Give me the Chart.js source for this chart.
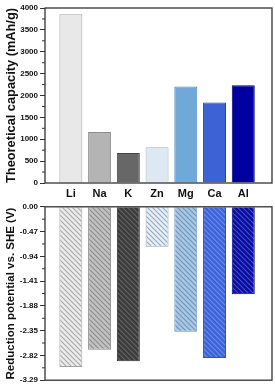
<!DOCTYPE html>
<html>
<head>
<meta charset="utf-8">
<script src="https://cdn.jsdelivr.net/npm/chart.js@4.4.1/dist/chart.umd.min.js"></script>
<style>
  body { margin: 0; background: #fff; }
  .box { position: absolute; left: 0; width: 275px; }
  #topBox { top: 0; height: 200px; }
  #bottomBox { top: 200px; height: 187px; }
</style>
</head>
<body>
<div class="box" id="topBox"><canvas id="capChart"></canvas></div>
<div class="box" id="bottomBox"><canvas id="potChart"></canvas></div>
<script>
const metals = ["Li", "Na", "K", "Zn", "Mg", "Ca", "Al"];
const capacity = [3860, 1166, 685, 820, 2205, 1840, 2235];
const potential = [-3.04, -2.71, -2.93, -0.76, -2.37, -2.87, -1.66];
const capTicks = [0, 500, 1000, 1500, 2000, 2500, 3000, 3500, 4000];
const potTicks = [0.00, -0.47, -0.94, -1.41, -1.88, -2.35, -2.82, -3.29];

const topFill = ["#e8e8e8", "#b4b4b4", "#676767", "#dde8f3", "#70a8d8", "#3d62d6", "#0000a0"];
const topEdge = ["#a4a4a4", "#8c8c8c", "#454545", "#a6b0bb", "#4f86b6", "#2443b4", "#000070"];
const hatchBg = ["#ececec", "#c2c2c2", "#3b3b3b", "#e6f0fb", "#a7c9e7", "#3e63d8", "#0b0b9c"];
const hatchLine = ["#a8a8a8", "#8c8c8c", "#666666", "#95a7bc", "#7292b2", "#6d8cec", "#4252d2"];
const hatchEdge = ["#a0a0a0", "#8a8a8a", "#2a2a2a", "#9aa6b4", "#7090b0", "#3050c0", "#000078"];

const FONT = "'Liberation Sans', Arial, sans-serif";
const INK = "#111";

function hatch(bg, line) {
  const c = document.createElement("canvas");
  c.width = 5; c.height = 5;
  const g = c.getContext("2d");
  g.fillStyle = bg;
  g.fillRect(0, 0, 5, 5);
  g.strokeStyle = line;
  g.lineWidth = 1.1;
  g.beginPath();
  g.moveTo(-1, -1); g.lineTo(6, 6);
  g.moveTo(-1, 4); g.lineTo(1, 6);
  g.moveTo(4, -1); g.lineTo(6, 1);
  g.stroke();
  return g.createPattern(c, "repeat");
}

// box frame and minor ticks
const framePlugin = {
  id: "frame",
  afterDraw(chart) {
    const { ctx, chartArea: a } = chart;
    const y = chart.scales.y;
    ctx.save();
    ctx.strokeStyle = "#333";
    ctx.lineWidth = 1.3;
    ctx.strokeRect(a.left, a.top, a.right - a.left, a.bottom - a.top);
    ctx.lineWidth = 1;
    const t = y.ticks;
    for (let i = 0; i < t.length - 1; i++) {
      const py = y.getPixelForValue((t[i].value + t[i + 1].value) / 2);
      ctx.beginPath();
      ctx.moveTo(a.left - 3, py);
      ctx.lineTo(a.left, py);
      ctx.stroke();
    }
    ctx.restore();
  }
};

function yAxis(min, max, ticks, title, fmt, titleSize) {
  return {
    min, max,
    afterBuildTicks: s => { s.ticks = ticks.map(v => ({ value: v })); },
    afterFit: s => { s.width = 45; },
    border: { display: false },
    grid: { drawOnChartArea: false, drawTicks: true, tickLength: 5, color: "#333", lineWidth: 1 },
    ticks: { color: INK, font: { family: FONT, size: 8, weight: "bold" }, padding: 2, callback: fmt },
    title: { display: true, text: title, color: INK, font: { family: FONT, size: titleSize, weight: "bold" }, padding: { top: 4, bottom: 0 } }
  };
}

function xAxis(show) {
  return {
    type: "linear", min: 0.1, max: 8,
    offset: false,
    display: show,
    afterBuildTicks: s => { s.ticks = metals.map((m, i) => ({ value: i + 1 })); },
    afterFit: s => { if (show) s.height = 17; },
    border: { display: false },
    grid: { display: false, drawTicks: false, offset: false },
    ticks: { color: INK, font: { family: FONT, size: 11, weight: "bold" }, padding: 4, callback: v => metals[v - 1] }
  };
}

new Chart(document.getElementById("capChart"), {
  type: "bar",
  data: {
    datasets: [{
      data: metals.map((m, i) => ({ x: i + 1, y: capacity[i] })),
      backgroundColor: topFill,
      borderColor: topEdge,
      borderWidth: 1,
      barPercentage: 0.8,
      categoryPercentage: 1
    }]
  },
  options: {
    responsive: true,
    maintainAspectRatio: false,
    animation: false,
    layout: { padding: { left: 0, right: 3, top: 8, bottom: 0 } },
    plugins: { legend: { display: false }, tooltip: { enabled: false } },
    scales: {
      x: xAxis(true),
      y: yAxis(0, 4000, capTicks, "Theoretical capacity (mAh/g)", v => v, 12.8)
    }
  },
  plugins: [framePlugin]
});

new Chart(document.getElementById("potChart"), {
  type: "bar",
  data: {
    datasets: [{
      data: metals.map((m, i) => ({ x: i + 1, y: potential[i] })),
      backgroundColor: metals.map((m, i) => hatch(hatchBg[i], hatchLine[i])),
      borderColor: hatchEdge,
      borderWidth: 1,
      barPercentage: 0.8,
      categoryPercentage: 1
    }]
  },
  options: {
    responsive: true,
    maintainAspectRatio: false,
    animation: false,
    layout: { padding: { left: 0, right: 3, top: 6, bottom: 6 } },
    plugins: { legend: { display: false }, tooltip: { enabled: false } },
    scales: {
      x: xAxis(false),
      y: yAxis(-3.29, 0, potTicks, "Reduction potential vs. SHE (V)", v => v.toFixed(2), 11.5)
    }
  },
  plugins: [framePlugin]
});
</script>
</body>
</html>
